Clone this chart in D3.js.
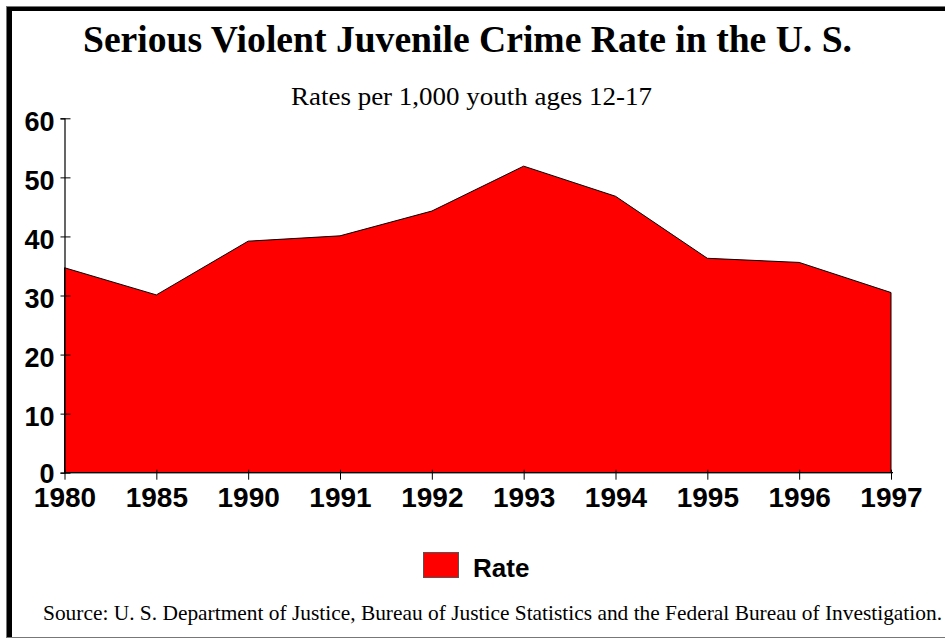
<!DOCTYPE html>
<html>
<head>
<meta charset="utf-8">
<script src="https://cdn.jsdelivr.net/npm/d3@7"></script>
<style>
  body { margin: 0; background: #fff; }
  svg { display: block; }
</style>
</head>
<body>
<div id="chart"></div>
<script>
// Chart data
const years = ["1980", "1985", "1990", "1991", "1992", "1993", "1994", "1995", "1996", "1997"];
const rates = [34.7, 30.1, 39.2, 40.1, 44.3, 51.9, 46.8, 36.3, 35.6, 30.5];
const yTicks = [0, 10, 20, 30, 40, 50, 60];

const titleText = "Serious Violent Juvenile Crime Rate in the U. S.";
const subtitleText = "Rates per 1,000 youth ages 12-17";
const sourceText = "Source: U. S. Department of Justice, Bureau of Justice Statistics and the Federal Bureau of Investigation.";
const legendLabel = "Rate";

const width = 945;
const height = 639;
const margin = {top: 118.3, right: 54, bottom: 166.3, left: 64.5};

const serif = "'Liberation Serif', 'Times New Roman', serif";
const sans = "'Liberation Sans', Arial, sans-serif";

const svg = d3.select("#chart")
  .append("svg")
  .attr("width", width)
  .attr("height", height);

// Frame: thin grey outline plus heavy black top/left edges
svg.append("rect")
  .attr("x", 6.5).attr("y", 6.5)
  .attr("width", width).attr("height", 631)
  .attr("fill", "none")
  .attr("stroke", "#777")
  .attr("stroke-width", 1);
svg.append("rect")
  .attr("x", 7).attr("y", 7)
  .attr("width", width - 7).attr("height", 4)
  .attr("fill", "#000");
svg.append("rect")
  .attr("x", 7).attr("y", 7)
  .attr("width", 5).attr("height", 630)
  .attr("fill", "#000");

// Titles (fitted to the reference's text widths)
svg.append("text")
  .attr("x", 83).attr("y", 52)
  .attr("font-family", serif)
  .attr("font-weight", "bold")
  .attr("font-size", 38)
  .attr("textLength", 769)
  .attr("lengthAdjust", "spacingAndGlyphs")
  .text(titleText);

svg.append("text")
  .attr("x", 291).attr("y", 105)
  .attr("font-family", serif)
  .attr("font-size", 25)
  .attr("textLength", 361)
  .attr("lengthAdjust", "spacingAndGlyphs")
  .text(subtitleText);

// Scales
const x = d3.scalePoint()
  .domain(years)
  .range([margin.left, width - margin.right]);

const y = d3.scaleLinear()
  .domain([0, 60])
  .range([height - margin.bottom, margin.top]);

// Area
const area = d3.area()
  .x((d, i) => x(years[i]))
  .y0(y(0))
  .y1(d => y(d));

svg.append("path")
  .datum(rates)
  .attr("d", area)
  .attr("fill", "#ff0000")
  .attr("stroke", "#000")
  .attr("stroke-width", 1)
  .attr("stroke-linejoin", "round");

// Y axis
const yAxis = svg.append("g")
  .attr("transform", `translate(${margin.left},0)`)
  .call(d3.axisLeft(y).tickValues(yTicks).tickSize(4).tickPadding(6));

yAxis.select(".domain").attr("stroke", "#000").attr("stroke-width", 1.2);
yAxis.selectAll(".tick line").attr("x1", 6).attr("x2", -4).attr("stroke", "#000");
yAxis.selectAll(".tick text")
  .attr("dy", d => d === 0 ? "0.36em" : "0.44em")
  .attr("font-family", sans)
  .attr("font-weight", "bold")
  .attr("font-size", 27)
  .attr("fill", "#000");

// X axis
const xAxis = svg.append("g")
  .attr("transform", `translate(0,${y(0)})`)
  .call(d3.axisBottom(x).tickSize(7).tickPadding(0));

xAxis.select(".domain")
  .attr("d", `M${margin.left},0H${width - margin.right + 2}`)
  .attr("stroke", "#000").attr("stroke-width", 1.2);
xAxis.selectAll(".tick line").attr("y1", -3).attr("y2", 7).attr("stroke", "#000");
xAxis.selectAll(".tick text")
  .attr("y", 34)
  .attr("dy", 0)
  .attr("font-family", sans)
  .attr("font-weight", "bold")
  .attr("font-size", 28)
  .attr("fill", "#000");

// Legend
const legend = svg.append("g").attr("transform", "translate(423,552)");
legend.append("rect")
  .attr("x", 0.5).attr("y", 0.5)
  .attr("width", 35).attr("height", 25)
  .attr("fill", "#ff0000")
  .attr("stroke", "#555")
  .attr("stroke-width", 1);
legend.append("text")
  .attr("x", 50).attr("y", 25)
  .attr("font-family", sans)
  .attr("font-weight", "bold")
  .attr("font-size", 26)
  .text(legendLabel);

// Source note
svg.append("text")
  .attr("x", 43).attr("y", 620)
  .attr("font-family", serif)
  .attr("font-size", 21)
  .attr("textLength", 899)
  .attr("lengthAdjust", "spacingAndGlyphs")
  .text(sourceText);
</script>
</body>
</html>
